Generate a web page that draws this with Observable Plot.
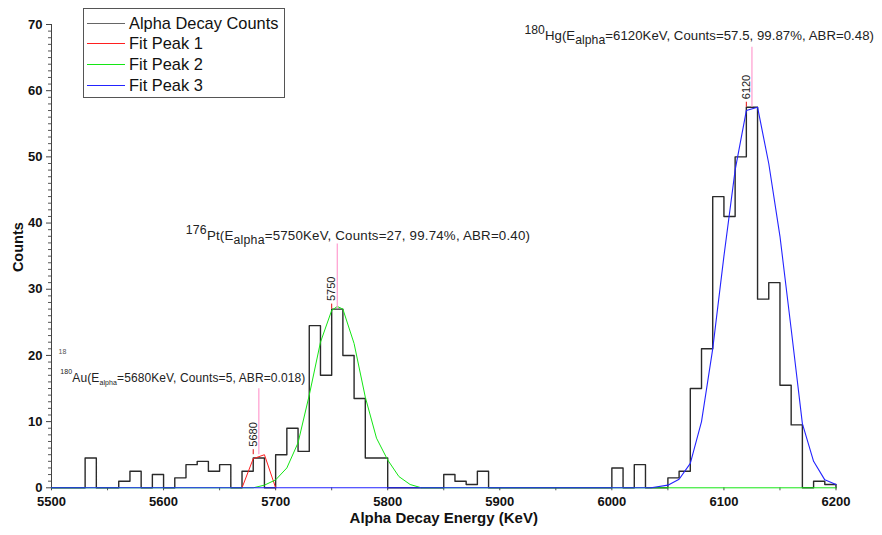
<!DOCTYPE html>
<html>
<head>
<meta charset="utf-8">
<script src="https://cdn.jsdelivr.net/npm/d3@7"></script>
<script src="https://cdn.jsdelivr.net/npm/@observablehq/plot@0.6"></script>
<style>
  html, body { margin: 0; padding: 0; background: #fff; }
  #chart { position: relative; width: 882px; height: 535px; font-family: "Liberation Sans", Arial, sans-serif; }
  #chart svg { display: block; }
  .legend { position: absolute; left: 83px; top: 8px; width: 202px; height: 90px; box-sizing: border-box;
            border: 1px solid #555; background: #fff; font-size: 16.4px; color: #111; }
  .legend .row { position: absolute; left: 3px; height: 20px; display: flex; align-items: center; }
  .legend .swatch { width: 38px; height: 0; border-top: 1px solid; margin-right: 4px; }
</style>
</head>
<body>
<div id="chart"></div>
<script>
// Histogram of alpha-decay energies, 10 keV bins (bin start in keV)
const binStart = [
  5500, 5510, 5520, 5530, 5540, 5550, 5560, 5570, 5580, 5590,
  5600, 5610, 5620, 5630, 5640, 5650, 5660, 5670, 5680, 5690,
  5700, 5710, 5720, 5730, 5740, 5750, 5760, 5770, 5780, 5790,
  5800, 5810, 5820, 5830, 5840, 5850, 5860, 5870, 5880, 5890,
  5900, 5910, 5920, 5930, 5940, 5950, 5960, 5970, 5980, 5990,
  6000, 6010, 6020, 6030, 6040, 6050, 6060, 6070, 6080, 6090,
  6100, 6110, 6120, 6130, 6140, 6150, 6160, 6170, 6180, 6190
];
const binCounts = [
  0, 0, 0, 4.5, 0, 0, 1, 2.5, 0, 2,
  0, 1.5, 3.5, 4, 2.5, 3.5, 0, 2.5, 4.5, 0,
  5, 9, 5.5, 24.5, 17, 27, 20, 13.5, 4.5, 4.5,
  0, 0, 0, 0, 0, 2, 1, 0.5, 2.5, 0,
  0, 0, 0, 0, 0, 0, 0, 0, 0, 0,
  3, 0, 3.5, 0, 0, 1.5, 2.5, 15, 21, 44,
  41, 50, 57.5, 28.5, 31, 15.5, 9.5, 0, 1, 0.5
];
const binWidth = 10;
const energyMax = 6200;

// Fitted peak curves (energy keV, counts)
const fit1Energy = [5670, 5680, 5690, 5700];
const fit1Counts = [0, 4.4, 5, 0];

const fit2Energy = [5500, 5680, 5690, 5700, 5710, 5720, 5730, 5740, 5750, 5755, 5760, 5770, 5780, 5790, 5800, 5810, 5820, 5830, 6200];
const fit2Counts = [0, 0, 0.4, 1.2, 3.0, 6.8, 14, 22, 26.8, 27.4, 27, 21.8, 13.7, 7.5, 4.2, 1.7, 0.5, 0, 0];

const fit3Energy = [5500, 6035, 6050, 6060, 6070, 6080, 6090, 6100, 6110, 6120, 6130, 6140, 6150, 6160, 6170, 6180, 6190, 6200];
const fit3Counts = [0, 0, 0.4, 1.3, 3.7, 10, 21, 35, 48, 57, 57.5, 49, 38, 24, 9.7, 4, 1.2, 0.5];

// Identified peaks
const peakEnergy = [5680, 5750, 6120];
const peakCounts = [5, 27, 57.5];
const peakMass = ["180", "176", "180"];
const peakElement = ["Au", "Pt", "Hg"];
const peakShare = [null, "99.74%", "99.87%"];
const peakABR = ["0.018", "0.40", "0.48"];

// Axis ticks
const xMajorTicks = [5500, 5600, 5700, 5800, 5900, 6000, 6100, 6200];
const xMinorTicks = [5550, 5650, 5750, 5850, 5950, 6050, 6150];
const yMajorTicks = [0, 10, 20, 30, 40, 50, 60, 70];

const legendNames = ["Alpha Decay Counts", "Fit Peak 1", "Fit Peak 2", "Fit Peak 3"];
const colors = { hist: "#2a2a2a", fit1: "#ff1f1f", fit2: "#14e614", fit3: "#2323ff", leader: "#ff9ccf", tick: "#e01010" };

// ---- build mark data ----
const hist = binStart.map((e, i) => ({ e, c: binCounts[i] }));
hist.push({ e: energyMax, c: binCounts[binCounts.length - 1] }, { e: energyMax, c: 0 });
const fit1 = fit1Energy.map((e, i) => ({ e, c: fit1Counts[i] }));
const fit2 = fit2Energy.map((e, i) => ({ e, c: fit2Counts[i] }));
const fit3 = fit3Energy.map((e, i) => ({ e, c: fit3Counts[i] }));
const peaks = peakEnergy.map((e, i) => ({
  e, center: e + binWidth / 2, c: peakCounts[i], mass: peakMass[i], el: peakElement[i],
  note: `=${e}KeV, Counts=${peakCounts[i]}, ` + (peakShare[i] ? `${peakShare[i]}, ` : "") + `ABR=${peakABR[i]})`
}));
const yMinorTicks = d3.range(0, 71, 1).filter(v => v % 10 !== 0);

// leader length (px) and label styling for each peak annotation
const noteStyle = [
  { lead: 66, gap: 6, dx: -198, size: 12, sup: 7, raise: 8, sub: 7, lower: 3, spacing: 0.1 },
  { lead: 65, gap: 4, dx: -151, size: 13.3, sup: 12.3, raise: 5.5, sub: 12.3, lower: 4, spacing: 0.2 },
  { lead: 60, gap: 7, dx: -227, size: 13.2, sup: 12.2, raise: 5.5, sub: 12.2, lower: 4, spacing: 0.05 }
];

const font = "Liberation Sans, Arial, sans-serif";

const plot = Plot.plot({
  width: 882,
  height: 535,
  marginLeft: 51,
  marginRight: 46.5,
  marginTop: 24,
  marginBottom: 47.7,
  style: { fontFamily: font, background: "#fff", color: "#111" },
  x: { domain: [5500, 6200] },
  y: { domain: [0, 70] },
  marks: [
    // axes
    Plot.axisY({ ticks: yMinorTicks, tickSize: 3, tickFormat: () => "", stroke: "#555", label: null }),
    Plot.axisY({ ticks: yMajorTicks, tickSize: 5, tickPadding: 4, fontSize: 13, fontWeight: "bold", stroke: "#444", fill: "#111", label: null }),
    Plot.axisX({ ticks: xMinorTicks, tickSize: 3, tickFormat: () => "", stroke: "#555", label: null }),
    Plot.axisX({ ticks: xMajorTicks, tickSize: 3, tickPadding: 6, fontSize: 13, fontWeight: "bold", stroke: "#444", fill: "#111", tickFormat: d3.format("d"), label: null }),
    Plot.ruleX([5500], { stroke: "#444", strokeWidth: 1 }),
    Plot.text(["Counts"], { frameAnchor: "left", textAnchor: "middle", rotate: -90, dx: -33, dy: -9, fontSize: 14.5, fontWeight: "bold", fill: "#111" }),
    Plot.text(["Alpha Decay Energy (KeV)"], { frameAnchor: "bottom", dy: 35, fontSize: 15, fontWeight: "bold", fill: "#111" }),
    Plot.text(["18"], { frameAnchor: "bottom-left", textAnchor: "middle", dx: 11, dy: -134, fontSize: 7, fill: "#555" }),

    // histogram and fits
    Plot.line(hist, { x: "e", y: "c", curve: "step-after", stroke: colors.hist, strokeWidth: 1.4 }),
    Plot.line(fit1, { x: "e", y: "c", stroke: colors.fit1, strokeWidth: 1 }),
    Plot.line(fit2, { x: "e", y: "c", stroke: colors.fit2, strokeWidth: 1 }),
    Plot.line(fit3, { x: "e", y: "c", stroke: colors.fit3, strokeWidth: 1.1 }),

    // peak markers
    ...peaks.map((p, i) => Plot.ruleX([p], { x: "center", y1: "c", y2: "c", insetTop: -noteStyle[i].lead, stroke: colors.leader, strokeWidth: 1.2 })),
    Plot.ruleX(peaks, { x: "e", y1: "c", y2: "c", insetTop: -5, stroke: colors.tick, strokeWidth: 1 }),
    Plot.text(peaks, { x: "e", y: "c", text: d => String(d.e), rotate: -90, textAnchor: "start", dy: -8, fontSize: 11, fill: "#222" })
  ]
});

const chart = document.getElementById("chart");
chart.appendChild(plot);

// rich-text peak annotations (superscript mass number, subscripted "alpha")
const svg = d3.select(plot);
const xs = plot.scale("x"), ys = plot.scale("y");
peaks.forEach((p, i) => {
  const s = noteStyle[i];
  const t = svg.append("text")
    .attr("x", xs.apply(p.center) + s.dx)
    .attr("y", ys.apply(p.c) - s.lead - s.gap)
    .attr("text-anchor", "start")
    .attr("font-family", font)
    .attr("font-size", s.size)
    .attr("letter-spacing", s.spacing)
    .attr("fill", "#222");
  t.append("tspan").attr("font-size", s.sup).attr("dy", -s.raise).text(p.mass);
  t.append("tspan").attr("dy", s.raise).text(p.el + "(E");
  t.append("tspan").attr("font-size", s.sub).attr("dy", s.lower).text("alpha");
  t.append("tspan").attr("dy", -s.lower).text(p.note);
});

// legend box
const legend = d3.select(chart).append("div").attr("class", "legend");
const legendColors = [colors.hist, colors.fit1, colors.fit2, colors.fit3];
legendNames.forEach((name, i) => {
  const row = legend.append("div").attr("class", "row").style("top", (4 + i * 20.7) + "px");
  row.append("div").attr("class", "swatch").style("border-color", i === 0 ? "#666" : legendColors[i]);
  row.append("span").text(name);
});
</script>
</body>
</html>
